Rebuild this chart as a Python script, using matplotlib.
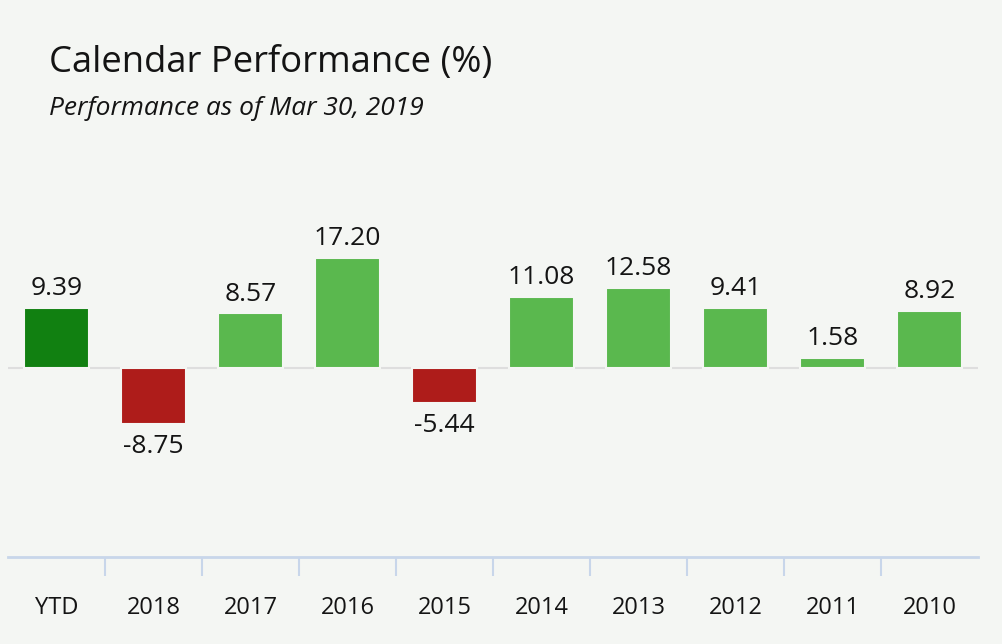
import numpy as np
import matplotlib.pyplot as plt

categories = ["YTD", "2018", "2017", "2016", "2015", "2014", "2013", "2012", "2011", "2010"]
values = [9.39, -8.75, 8.57, 17.20, -5.44, 11.08, 12.58, 9.41, 1.58, 8.92]

BG = "#f4f6f3"
YTD_GREEN = "#118011"
GREEN = "#5ab84e"
RED = "#ae1c1a"
AXIS_BLUE = "#c8d6ea"
TXT = "#141414"

plt.rcParams['font.family'] = ['Open Sans', 'DejaVu Sans']

W, H = 1002, 644
fig = plt.figure(figsize=(W / 100, H / 100), dpi=100, facecolor=BG)

# axes placed in pixels: x 8..978, y 176..556.5 (from top)
ax = fig.add_axes([8 / W, (H - 556.5) / H, 970 / W, (556.5 - 176) / H])
ax.set_facecolor(BG)

x = np.arange(len(categories))
colors = [YTD_GREEN] + [GREEN if v >= 0 else RED for v in values[1:]]

ax.axhline(0, color="#dedede", lw=1.5, zorder=1)
ax.bar(x, values, width=0.68, color=colors, edgecolor=BG, linewidth=1.5, zorder=2)

for xi, v in zip(x, values):
    if v >= 0:
        ax.annotate(f"{v:.2f}", (xi, v), xytext=(0, 5), textcoords="offset points",
                    ha="center", va="bottom", fontsize=19, color=TXT)
    else:
        ax.annotate(f"{v:.2f}", (xi, v), xytext=(0, -7), textcoords="offset points",
                    ha="center", va="top", fontsize=19, color=TXT)

ax.set_xlim(-0.5, len(categories) - 0.5)
ax.set_ylim(-29.5, 30.1)

for s in ["top", "right", "left"]:
    ax.spines[s].set_visible(False)
ax.spines["bottom"].set_color(AXIS_BLUE)
ax.spines["bottom"].set_linewidth(2)

ax.set_yticks([])
ax.set_xticks(x)
ax.set_xticklabels(categories, fontsize=17, color=TXT)
ax.tick_params(axis="x", which="major", length=0, pad=28.5)
ax.set_xticks(np.arange(0.5, len(categories) - 1), minor=True)
ax.tick_params(axis="x", which="minor", length=13.5, width=1.5, color=AXIS_BLUE)

fig.text(49 / W, 1 - 72 / H, "Calendar Performance (%)", fontsize=26.2,
         color=TXT, ha="left", va="baseline")
fig.text(49 / W, 1 - 115 / H, "Performance as of Mar 30, 2019", fontsize=19,
         style="italic", color=TXT, ha="left", va="baseline")

plt.savefig("out.png", dpi=100, facecolor=BG)
